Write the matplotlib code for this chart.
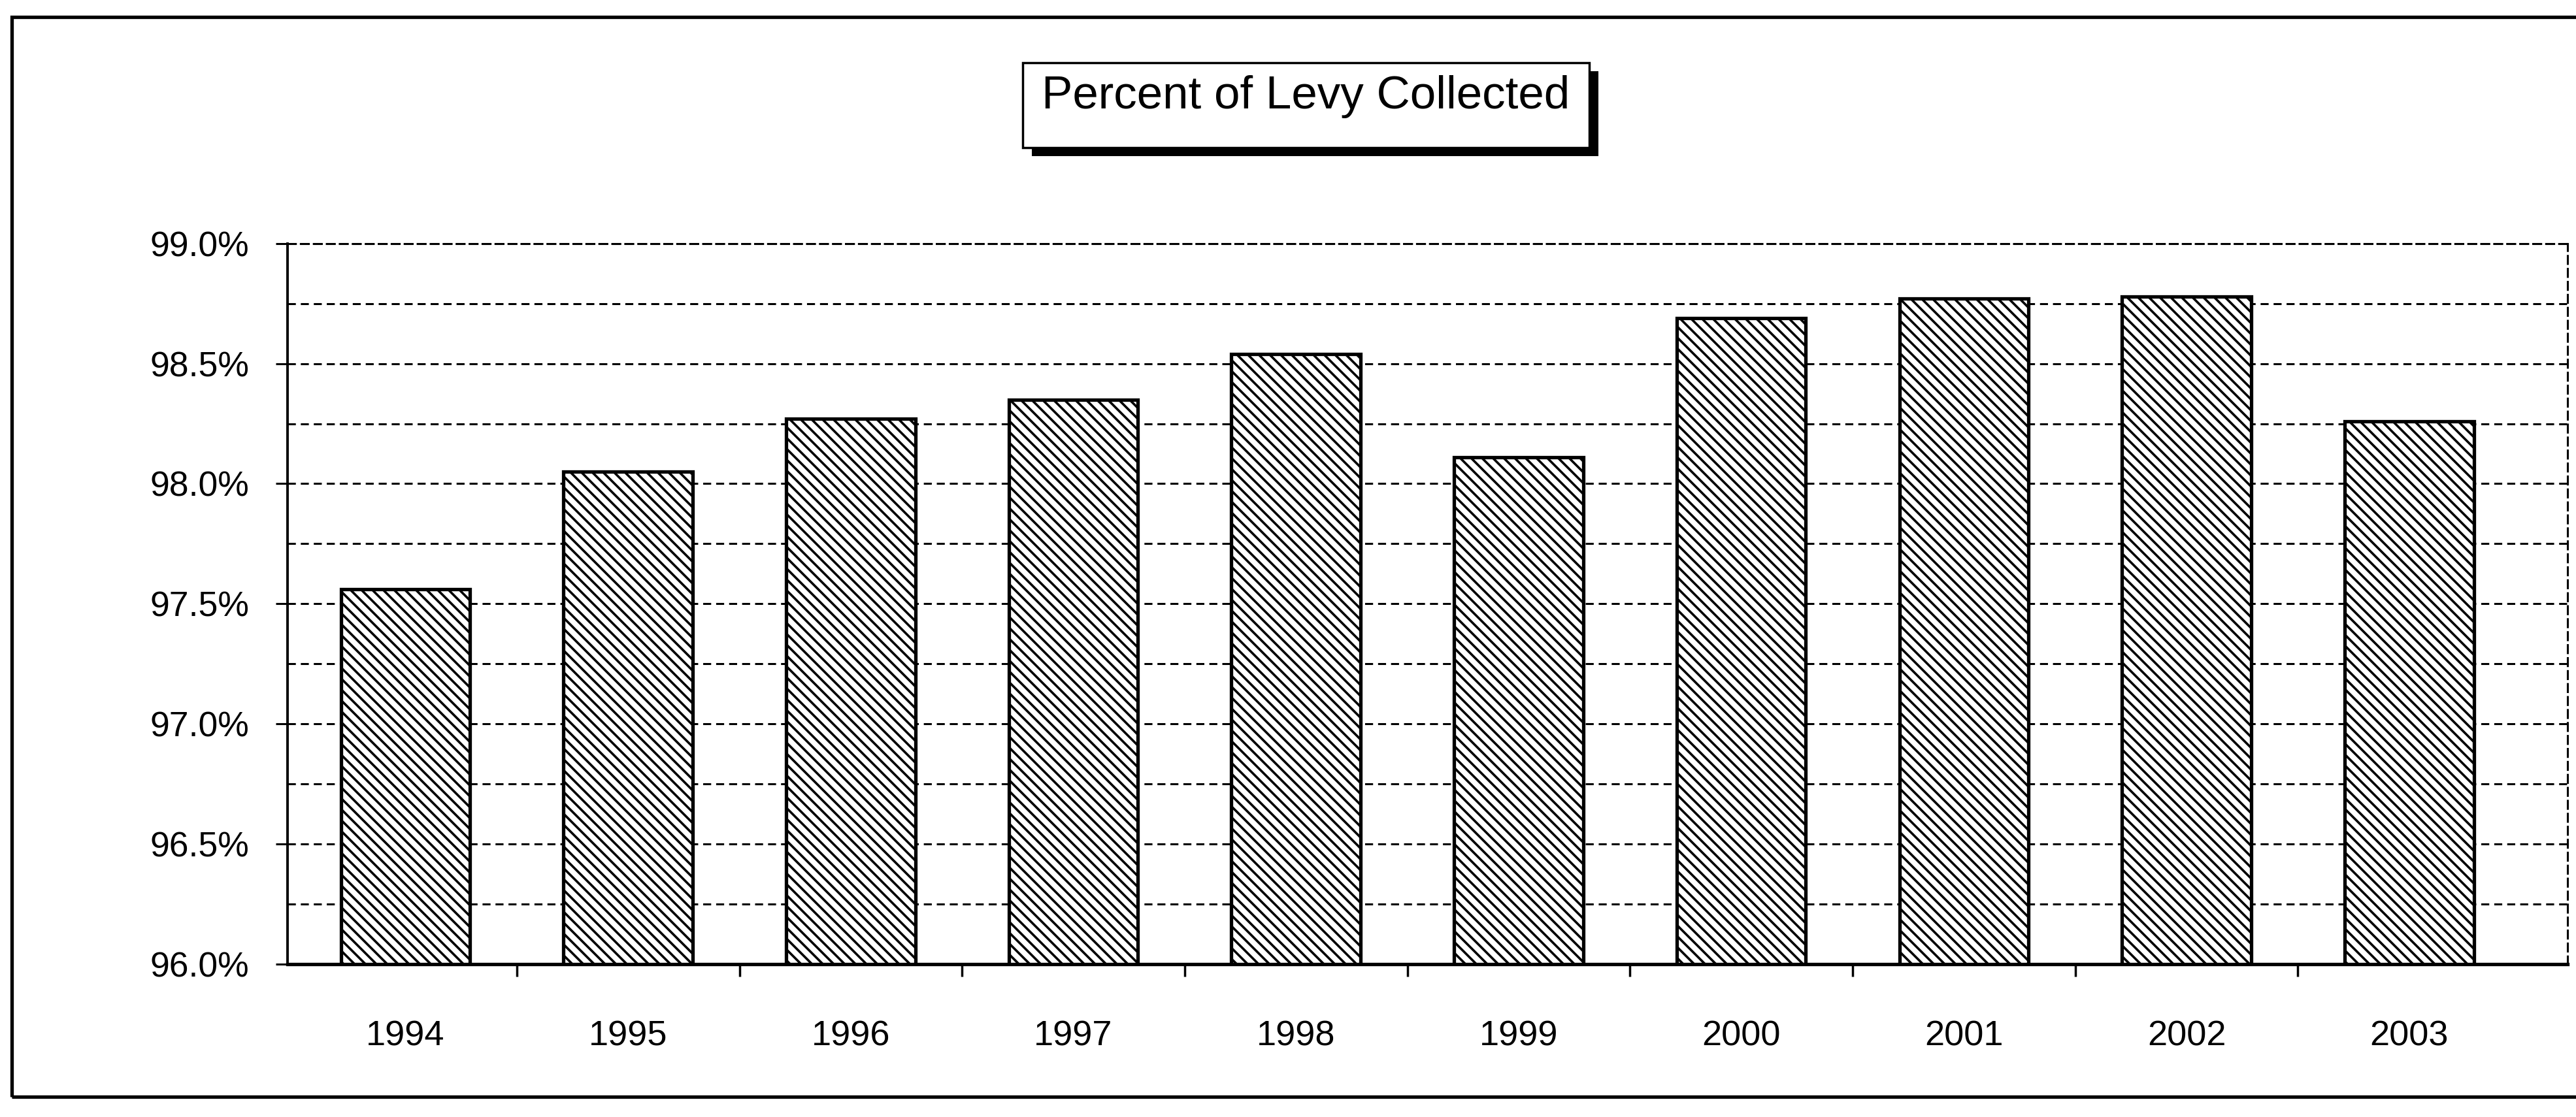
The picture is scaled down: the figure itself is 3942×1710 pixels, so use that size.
import matplotlib.pyplot as plt
from matplotlib.patches import Rectangle
from matplotlib.ticker import MultipleLocator, FixedLocator, FuncFormatter

# percent of levy collected each year
years = ['1994', '1995', '1996', '1997', '1998', '1999', '2000', '2001', '2002', '2003']
collected = [97.56, 98.05, 98.27, 98.35, 98.54, 98.11, 98.69, 98.77, 98.78, 98.26]
base = 96.0

plt.rcParams['font.family'] = ['Liberation Sans', 'DejaVu Sans']
plt.rcParams['hatch.linewidth'] = 2.6
plt.rcParams['hatch.color'] = 'black'

fig = plt.figure(figsize=(39.42, 17.10), dpi=100)
ax = fig.add_axes([0.1116, 0.137, 0.885, 0.645])

x = list(range(len(years)))
heights = [v - base for v in collected]
ax.bar(x, heights, bottom=base, width=0.58, facecolor='white',
       edgecolor='black', linewidth=3.8, hatch='\\\\', zorder=3)

ax.set_ylim(96.0, 99.0)
ax.set_xlim(-0.53, 9.71)

# y axis: labels every 0.5, dashed grid every 0.25
ax.yaxis.set_major_locator(MultipleLocator(0.5))
ax.yaxis.set_minor_locator(MultipleLocator(0.25))
ax.yaxis.set_major_formatter(FuncFormatter(lambda v, _: f'{v:.1f}%'))
ax.grid(axis='y', which='both', color='black', linestyle=(0, (4, 2.5)),
        linewidth=2.2, zorder=1)
ax.tick_params(axis='y', which='major', direction='out', length=13, width=2.2,
               pad=29, labelsize=38.5)
ax.tick_params(axis='y', which='minor', length=0)

# x axis: year labels centred, small ticks between categories
ax.set_xticks(x)
ax.set_xticklabels(years)
ax.xaxis.set_minor_locator(FixedLocator([i + 0.5 for i in range(len(years) - 1)]))
ax.tick_params(axis='x', which='major', length=0, pad=62, labelsize=39)
ax.tick_params(axis='x', which='minor', direction='out', length=14, width=2.5)

for side in ('top', 'right'):
    ax.spines[side].set_linestyle((0, (4, 2.5)))
    ax.spines[side].set_linewidth(2.2)
ax.spines['left'].set_linewidth(2.8)
ax.spines['bottom'].set_linewidth(3.8)

# outer chart border
fig.patches.append(Rectangle((0.0045, 0.018), 1.0, 0.967, transform=fig.transFigure,
                             fill=False, edgecolor='black', linewidth=3.8))

# title box with drop shadow
bx, by, bw, bh = 0.397, 0.868, 0.220, 0.076
fig.patches.append(Rectangle((bx + 0.0035, by - 0.008), bw, bh, transform=fig.transFigure,
                             facecolor='black', edgecolor='black', linewidth=0))
fig.patches.append(Rectangle((bx, by), bw, bh, transform=fig.transFigure,
                             facecolor='white', edgecolor='black', linewidth=2.5))
fig.text(bx + bw / 2, by + bh * 0.6, 'Percent of Levy Collected', ha='center',
         va='center', fontsize=51)

fig.savefig('out.png', dpi=100)
